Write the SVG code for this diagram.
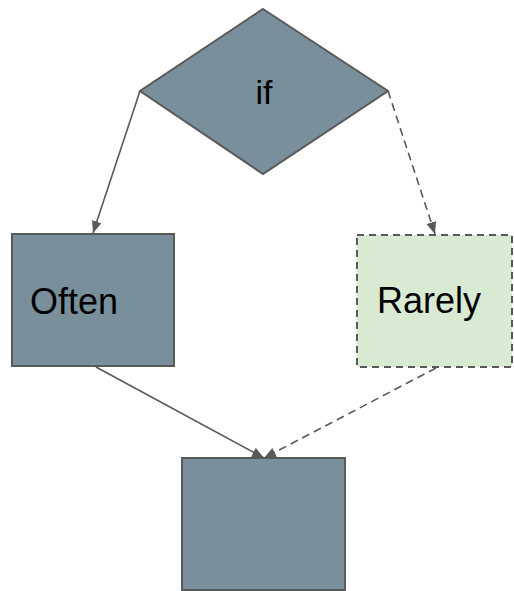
<svg xmlns="http://www.w3.org/2000/svg" width="514" height="591" viewBox="0 0 514 591">
<style>
.n{fill:#798f9b;stroke:#595959;stroke-width:2}
.g{fill:#d9ead3;stroke:#595959;stroke-width:2;stroke-dasharray:7 5}
.t{font-family:"Liberation Sans",Arial,sans-serif;font-size:36px;fill:#000}
.c{fill:none;stroke:#595959;stroke-width:1.6}
.d{stroke-dasharray:8 5}
</style>
<defs>
<marker id="a" viewBox="0 0 12 10" refX="12" refY="5" markerWidth="12" markerHeight="10" markerUnits="userSpaceOnUse" orient="auto">
<path d="M0,0 L12,5 L0,10 Z" fill="#595959"/>
</marker>
</defs>
<g id="if">
<polygon class="n" points="263,9 388,91 263,174 140,91"/>
<text class="t" x="264" y="104" text-anchor="middle" style="font-size:34px">if</text>
</g>
<g id="often">
<rect class="n" x="12" y="234" width="162" height="132"/>
<text class="t" x="30" y="314">Often</text>
</g>
<g id="rarely">
<rect class="g" x="357" y="235" width="155" height="132"/>
<text class="t" x="377" y="313">Rarely</text>
</g>
<g id="end">
<rect class="n" x="182" y="458" width="163" height="132"/>
</g>
<g id="connectors">
<line class="c" x1="140" y1="91" x2="93" y2="233" marker-end="url(#a)"/>
<line class="c d" x1="388" y1="91" x2="435" y2="234" marker-end="url(#a)"/>
<line class="c" x1="96" y1="367" x2="264" y2="458" marker-end="url(#a)"/>
<line class="c d" x1="436" y1="368" x2="264" y2="458" marker-end="url(#a)"/>
</g>
</svg>
